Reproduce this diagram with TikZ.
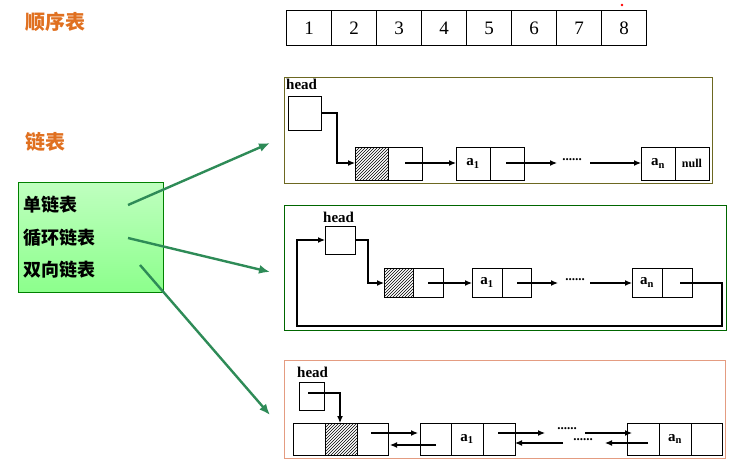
\documentclass[tikz,border=0pt]{standalone}
\usepackage{fontspec}
\setmainfont{Liberation Serif}
\newfontfamily\cjk{Noto Sans CJK SC}
\usetikzlibrary{patterns,arrows.meta}
\definecolor{orng}{HTML}{E07020}
\definecolor{garr}{HTML}{2E8B57}
\newcommand{\fs}[1]{\fontsize{#1}{#1}\selectfont}
\begin{document}
\begin{tikzpicture}[x=1pt,y=-1pt,
  cell/.style={draw,line width=1pt},
  hat/.style={cell,pattern=north east lines},
  ar/.style={-{Latex[length=7pt,width=6pt]},line width=1.2pt},
  ga/.style={-{Latex[length=11pt,width=9pt]},line width=2.4pt,draw=garr},
  lbl/.style={font=\bfseries\fs{15}},
  dots/.style={font=\bfseries\fs{13},inner sep=0pt}]
\useasboundingbox (0,0) rectangle (742,471);
% sequence table
\foreach \i in {1,...,8}{
  \node[cell,minimum width=45pt,minimum height=35pt,anchor=north west,font=\fs{19}] (s\i) at ({286+45*(\i-1)},10) {\i};}
\fill[red] (622,5) circle (1.3pt);
\node[font=\cjk\bfseries\fs{20},text=orng,anchor=west,inner sep=0pt] (t1) at (25,22) {顺序表};
\node[font=\cjk\bfseries\fs{20},text=orng,anchor=west,inner sep=0pt] (t2) at (25,142) {链表};
% green box
\shade[top color=green!25!white,bottom color=green!45!white,draw=green!50!black] (18,182) rectangle (163,292);
\node[font=\cjk\bfseries\fs{18},anchor=west] (l1) at (20,205) {单链表};
\node[font=\cjk\bfseries\fs{18},anchor=west] (l2) at (20,238) {循环链表};
\node[font=\cjk\bfseries\fs{18},anchor=west] (l3) at (20,270) {双向链表};
% panels
\node[draw=olive!70!black,line width=1pt,minimum width=428pt,minimum height=106pt,anchor=north west] (p1) at (284,77) {};
\node[draw=green!40!black,line width=1.2pt,minimum width=442pt,minimum height=125pt,anchor=north west] (p2) at (284,205) {};
\node[draw=brown!70!red!60,line width=1pt,minimum width=441pt,minimum height=98pt,anchor=north west] (p3) at (284,360) {};
\draw[ga] (128,205) -- (270,143);
\draw[ga] (128,238) -- (270,272);
\draw[ga] (140,265) -- (270,415);
% panel 1
\node[lbl,anchor=west,inner sep=1pt] (h1) at (285,84) {head};
\draw[cell] (288,96) rectangle (321,130);
\draw[hat] (355,147) rectangle (388,180); \draw[cell] (388,147) rectangle (422,180);
\draw[cell] (456,147) rectangle (490,180) node[midway,lbl]{a$_\mathbf{1}$}; \draw[cell] (490,147) rectangle (524,180);
\draw[cell] (641,147) rectangle (675,180) node[midway,lbl]{a$_\mathbf{n}$}; \draw[cell] (675,147) rectangle (709,180) node[midway,font=\bfseries\fs{12}]{null};
\draw[ar] (321,113) -- (337,113) -- (337,163) -- (355,163);
\draw[ar] (405,163) -- (456,163);
\draw[ar] (506,163) -- (557,163);
\node[dots] at (572,160) {......};
\draw[ar] (590,163) -- (641,163);
% panel 2
\node[lbl,anchor=west,inner sep=1pt] (h2) at (322,217) {head};
\draw[cell] (325,226) rectangle (355,254);
\draw[hat] (384,268) rectangle (413,297); \draw[cell] (413,268) rectangle (443,297);
\draw[cell] (472,268) rectangle (502,297) node[midway,lbl]{a$_\mathbf{1}$}; \draw[cell] (502,268) rectangle (531,297);
\draw[cell] (632,268) rectangle (662,297) node[midway,lbl]{a$_\mathbf{n}$}; \draw[cell] (662,268) rectangle (692,297);
\draw[ar] (355,240) -- (368,240) -- (368,283) -- (384,283);
\draw[ar] (428,283) -- (472,283);
\draw[ar] (517,283) -- (558,283);
\node[dots] at (575,280) {......};
\draw[ar] (590,283) -- (632,283);
\draw[ar] (680,283) -- (722,283) -- (722,326) -- (297,326) -- (297,240) -- (325,240);
% panel 3
\node[lbl,anchor=west,inner sep=1pt] (h3) at (296,372) {head};
\draw[cell] (299,382) rectangle (324,410);
\draw[cell] (293,423) rectangle (325,455); \draw[hat] (325,423) rectangle (357,455); \draw[cell] (357,423) rectangle (388,455);
\draw[cell] (420,423) rectangle (451,455); \draw[cell] (451,423) rectangle (483,455) node[midway,lbl]{a$_\mathbf{1}$}; \draw[cell] (483,423) rectangle (515,455);
\draw[cell] (627,423) rectangle (659,455); \draw[cell] (659,423) rectangle (691,455) node[midway,lbl]{a$_\mathbf{n}$}; \draw[cell] (691,423) rectangle (722,455);
\draw[ar] (308,393) -- (340,393) -- (340,423);
\draw[ar] (371,433) -- (418,433);
\draw[ar] (436,445) -- (390,445);
\draw[ar] (498,433) -- (545,433);
\node[dots] at (567,429) {......};
\draw[ar] (585,433) -- (632,433);
\draw[ar] (648,443) -- (605,443);
\node[dots] at (583,440) {......};
\draw[ar] (563,443) -- (515,443);
\end{tikzpicture}
\end{document}
